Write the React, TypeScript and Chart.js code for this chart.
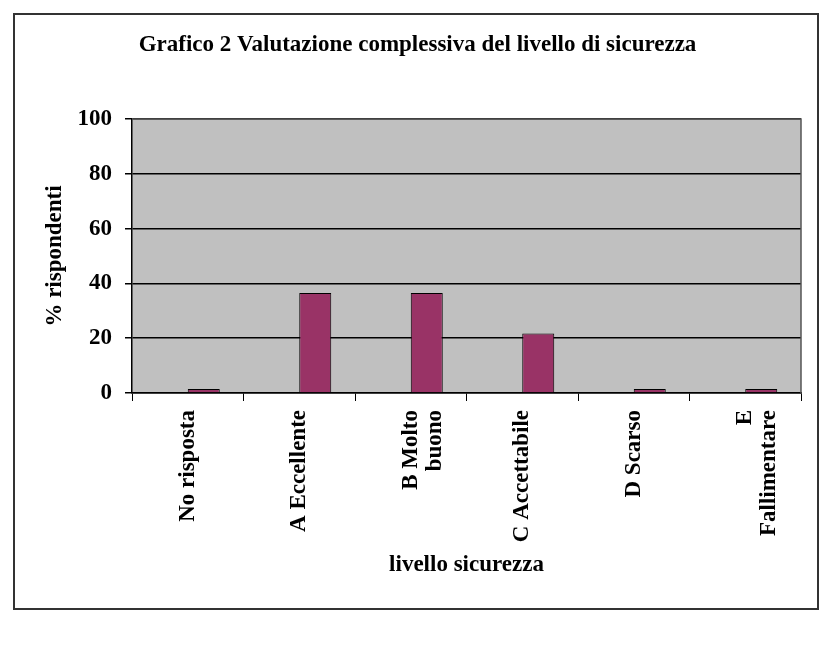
import React, { useEffect, useRef } from "react";
import { Chart, registerables } from "chart.js";

Chart.register(...registerables);

const titleText = "Grafico 2 Valutazione complessiva del livello di sicurezza";
const yAxisTitle = "% rispondenti";
const xAxisTitle = "livello sicurezza";
const categories: (string | string[])[] = [
  "No risposta",
  "A Eccellente",
  ["B Molto", "buono"],
  "C Accettabile",
  "D Scarso",
  ["E", "Fallimentare"],
];
// Excel-style layout: an empty first series leaves its slot blank
const emptySeries: (number | null)[] = [null, null, null, null, null, null];
const respondentsPct: number[] = [1.5, 36.5, 36.5, 21.7, 1.5, 1.5];
const yTicks: number[] = [0, 20, 40, 60, 80, 100];

const FONT = "'Liberation Serif', 'Times New Roman', serif";

const plotBg = {
  id: "plotBg",
  beforeDraw(chart: any) {
    const { ctx, chartArea } = chart;
    if (!chartArea) return;
    ctx.save();
    ctx.fillStyle = "#c0c0c0";
    ctx.fillRect(chartArea.left, chartArea.top, chartArea.right - chartArea.left, chartArea.bottom - chartArea.top);
    ctx.restore();
  },
  afterDraw(chart: any) {
    const { ctx, chartArea } = chart;
    ctx.save();
    ctx.strokeStyle = "#555555";
    ctx.lineWidth = 1.5;
    ctx.beginPath();
    ctx.moveTo(chartArea.left, chartArea.top);
    ctx.lineTo(chartArea.right, chartArea.top);
    ctx.lineTo(chartArea.right, chartArea.bottom);
    ctx.stroke();
    ctx.restore();
  },
};

export default function App() {
  const ref = useRef<HTMLCanvasElement | null>(null);
  useEffect(() => {
    if (!ref.current) return;
    const chart = new Chart(ref.current, {
      type: "bar",
      data: {
        labels: categories,
        datasets: [
          {
            label: "vuoto",
            data: emptySeries,
            backgroundColor: "rgba(0,0,0,0)",
            borderWidth: 0,
          },
          {
            label: yAxisTitle,
            data: respondentsPct,
            backgroundColor: "#993366",
            borderColor: "#000000",
            borderWidth: 1,
          },
        ],
      },
      options: {
        responsive: false,
        animation: false,
        layout: { padding: { left: 34, right: 31, top: 0, bottom: 40 } },
        datasets: {
          bar: { categoryPercentage: 0.574, barPercentage: 1 },
        },
        plugins: {
          legend: { display: false },
          tooltip: { enabled: false },
          title: {
            display: true,
            text: titleText,
            color: "#000",
            font: { family: FONT, size: 23, weight: "bold", lineHeight: 1.2 },
            padding: { top: 31, bottom: 60.4 },
          },
        },
        scales: {
          x: {
            grid: {
              display: true,
              drawOnChartArea: false,
              drawTicks: true,
              tickLength: 8,
              color: "#000",
              offset: true,
            },
            border: { display: true, color: "#000", width: 1.5 },
            ticks: {
              autoSkip: false,
              minRotation: 90,
              maxRotation: 90,
              padding: 9,
              color: "#000",
              font: { family: FONT, size: 23, weight: "bold", lineHeight: 1.05 },
            },
            title: {
              display: true,
              text: xAxisTitle,
              color: "#000",
              font: { family: FONT, size: 23, weight: "bold", lineHeight: 1.2 },
              padding: { top: 0, bottom: 36 },
            },
            afterFit(scale: any) {
              scale.height = 222;
            },
          },
          y: {
            min: 0,
            max: 100,
            afterBuildTicks(scale: any) {
              scale.ticks = yTicks.map((v) => ({ value: v }));
            },
            grid: {
              color: "#000",
              lineWidth: 1.5,
              drawTicks: true,
              tickLength: 7,
            },
            border: { display: true, color: "#000", width: 1.5 },
            ticks: {
              padding: 13,
              color: "#000",
              font: { family: FONT, size: 23, weight: "bold" },
            },
            title: {
              display: true,
              text: yAxisTitle,
              color: "#000",
              font: { family: FONT, size: 23, weight: "bold", lineHeight: 1.2 },
              padding: { top: 7, bottom: 0 },
            },
            afterFit(scale: any) {
              scale.width = 98;
            },
          },
        },
      },
      plugins: [plotBg],
    });
    return () => chart.destroy();
  }, []);

  return (
    <div style={{ position: "absolute", left: 0, top: 0, width: 832, height: 655, background: "#fff" }}>
      <div
        style={{
          position: "absolute",
          left: 13,
          top: 13,
          width: 806,
          height: 597,
          boxSizing: "border-box",
          border: "2px solid #333",
        }}
      />
      <canvas ref={ref} width={832} height={655} style={{ position: "absolute", left: 0, top: 0 }} />
    </div>
  );
}
